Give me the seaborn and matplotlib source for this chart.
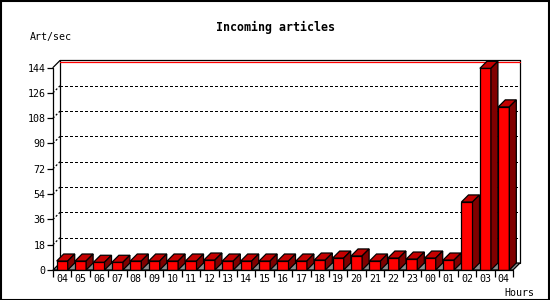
import numpy as np
import pandas as pd
import matplotlib
matplotlib.use("Agg")
import matplotlib.pyplot as plt
from matplotlib.patches import Polygon, Rectangle
import seaborn as sns

# ---- data ----
hours = ["04", "05", "06", "07", "08", "09", "10", "11", "12", "13", "14", "15",
         "16", "17", "18", "19", "20", "21", "22", "23", "00", "01", "02", "03", "04"]
values = [6.4, 6.4, 5.5, 5.5, 6.4, 6.4, 6.4, 6.4, 7.1, 6.4, 6.4, 6.4,
          6.4, 6.4, 7.1, 8.5, 10.0, 6.4, 8.5, 7.8, 8.5, 7.1, 48.4, 143.4, 116.0]
y_ticks = [0, 18, 36, 54, 72, 90, 108, 126, 144]
title = "Incoming articles"
y_label = "Art/sec"
x_label = "Hours"

sns.set_theme(style="white")
plt.rcParams["font.family"] = ["DejaVu Sans Mono", "DejaVu Sans"]

W, H = 550, 300
fig = plt.figure(figsize=(W / 100, H / 100), dpi=100)
fig.patch.set_facecolor("white")

# axes in pixel layout: front plane x 53..513, y 270..67.5
ax = fig.add_axes([53 / W, (H - 270) / H, 460 / W, 202.5 / H])
ax.set_facecolor("none")
for s in ax.spines.values():
    s.set_visible(False)

df = pd.DataFrame({"slot": np.arange(len(hours)), "value": values})
sns.barplot(data=df, x="slot", y="value", color="#ff0000", saturation=1,
            width=0.6, edgecolor="black", linewidth=0.9, ax=ax, zorder=3)

n = len(hours)
ax.set_xlim(-0.5, n - 0.5)
ax.set_ylim(y_ticks[0], y_ticks[-1])

# depth offset (7 px) in data units
t0 = ax.transData.transform((0, 0))
sx = ax.transData.transform((1, 0))[0] - t0[0]
sy = ax.transData.transform((0, 1))[1] - t0[1]
dx, dy = 7 / sx, 7 / sy
xl, xr = -0.5, n - 0.5
ymax = y_ticks[-1]
dots = (0, (1.6, 1.6))

# floor
ax.add_patch(Polygon([(xl, 0), (xr, 0), (xr + dx, dy), (xl + dx, dy)], closed=True,
                     fc="#8c8c8c", ec="black", lw=0.9, zorder=1, clip_on=False))

# gridlines on back wall + depth connectors
for v in y_ticks[1:-1]:
    ax.plot([xl + dx, xr + dx], [v + dy, v + dy], color="black", lw=0.9,
            ls=dots, zorder=1.5, clip_on=False, antialiased=False)
    ax.plot([xl, xl + dx], [v, v + dy], color="black", lw=0.9,
            ls=dots, zorder=1.5, clip_on=False)

# back wall frame
ax.plot([xl + dx, xl + dx], [dy, ymax + dy], color="black", lw=0.9, zorder=2, clip_on=False)
ax.plot([xr + dx, xr + dx], [dy, ymax + dy], color="black", lw=0.9, zorder=2, clip_on=False)
ax.plot([xl + dx, xr + dx], [ymax + dy - 0.8, ymax + dy - 0.8], color="#ff0000", lw=0.9,
        zorder=2, clip_on=False)
ax.plot([xl + dx, xr + dx], [ymax + dy, ymax + dy], color="black", lw=0.9, zorder=2.1, clip_on=False)
# front left axis and top connector
ax.plot([xl, xl], [0, ymax], color="black", lw=0.9, zorder=5, clip_on=False)
ax.plot([xl, xl + dx], [ymax, ymax + dy], color="black", lw=0.9, zorder=5, clip_on=False)
ax.plot([xl, xr], [0, 0], color="black", lw=0.9, zorder=5, clip_on=False)

# 3D faces of bars
for p in list(ax.patches):
    if not isinstance(p, Rectangle):
        continue
    x0, w, h = p.get_x(), p.get_width(), p.get_height()
    x1 = x0 + w
    ax.add_patch(Polygon([(x0, h), (x1, h), (x1 + dx, h + dy), (x0 + dx, h + dy)],
                         closed=True, fc="#c40000", ec="black", lw=0.9, zorder=3,
                         clip_on=False))
    ax.add_patch(Polygon([(x1, 0), (x1, h), (x1 + dx, h + dy), (x1 + dx, dy)],
                         closed=True, fc="#800000", ec="black", lw=0.9, zorder=3,
                         clip_on=False))

# ticks
ax.set_yticks(y_ticks)
ax.set_yticklabels([str(v) for v in y_ticks], fontsize=7.2, color="black")
ax.tick_params(axis="y", length=4, width=0.9, color="black", pad=1.5, left=True)
ax.set_xticks(np.arange(n))
ax.set_xticklabels(hours, fontsize=7.2, color="black")
ax.set_xticks(np.arange(n + 1) - 0.5, minor=True)
ax.tick_params(axis="x", which="major", length=0, pad=3)
ax.tick_params(axis="x", which="minor", length=5, width=0.9, color="black", bottom=True)
ax.set_xlabel("")
ax.set_ylabel("")

# texts
fig.text(275 / W, 1 - 27 / H, title, ha="center", va="center", fontsize=8.4,
         fontweight="bold", color="black")
fig.text(30 / W, 1 - 37 / H, y_label, ha="left", va="center", fontsize=7.2, color="black")
fig.text(504 / W, 1 - 293 / H, x_label, ha="left", va="center", fontsize=7.2, color="black")

# outer border
fig.add_artist(Rectangle((0.5 / W, 0.5 / H), (W - 2) / W, (H - 1.5) / H, transform=fig.transFigure,
                         fill=False, ec="black", lw=1.5))

fig.savefig("out.png", dpi=100, facecolor="white")
